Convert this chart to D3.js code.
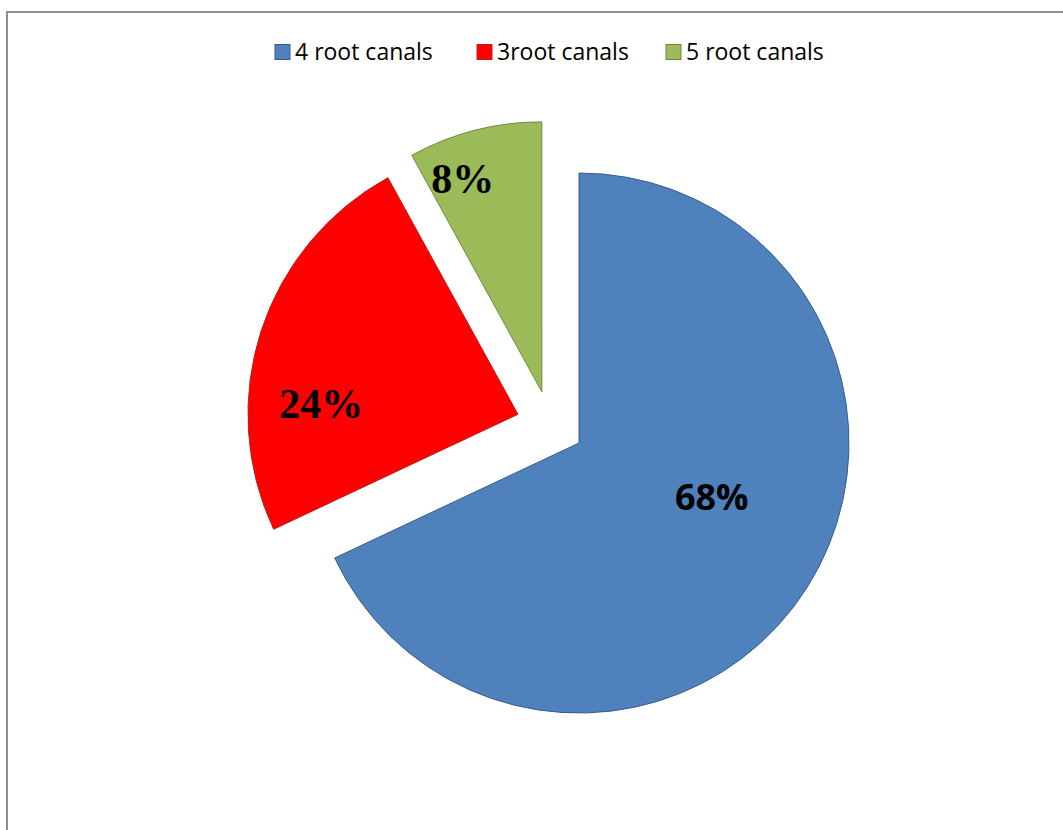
<!DOCTYPE html>
<html><head><meta charset="utf-8">
<script src="https://cdn.jsdelivr.net/npm/d3@7"></script>
<style>body{margin:0;background:#fff}svg{display:block}</style>
</head><body>
<svg id="chart" width="1063" height="830"></svg>
<script>
const categories = ["4 root canals", "3root canals", "5 root canals"];
const values = [68, 24, 8];
const labels = ["68%", "24%", "8%"];
const colors = ["#4f81bd", "#ff0000", "#9bbb59"];
const strokes = ["#385d8a", "#b22222", "#71893f"];
// label placement: [angle offset (deg) from slice mid-angle, fraction of radius]
const labelPlace = [[-10.4, 0.53], [-15, 0.73], [-6, 0.84]];
const labelFonts = [
  {family: "'Open Sans', Lato, sans-serif", size: 36},
  {family: "'Liberation Serif', 'Times New Roman', serif", size: 42},
  {family: "'Liberation Serif', 'Times New Roman', serif", size: 42}
];

const svg = d3.select("#chart");
svg.append("rect").attr("x", 7).attr("y", 12).attr("width", 1100).attr("height", 900)
  .attr("fill", "none").attr("stroke", "#8e8e8e").attr("stroke-width", 2);

const cx = 550.3, cy = 424.8, r = 270, explode = 34;
const pie = d3.pie().sort(null).value(d => d);
const arcs = pie(values);
const arc = d3.arc().innerRadius(0).outerRadius(r);

const g = svg.append("g").attr("transform", `translate(${cx},${cy})`);
arcs.forEach((a, i) => {
  const mid = (a.startAngle + a.endAngle) / 2;
  const ox = Math.sin(mid) * explode, oy = -Math.cos(mid) * explode;
  const sg = g.append("g").attr("transform", `translate(${ox},${oy})`);
  sg.append("path").attr("d", arc(a)).attr("fill", colors[i])
    .attr("stroke", strokes[i]).attr("stroke-width", 1);
  const la = mid + labelPlace[i][0] * Math.PI / 180;
  const lr = r * labelPlace[i][1];
  sg.append("text")
    .attr("x", Math.sin(la) * lr).attr("y", -Math.cos(la) * lr)
    .attr("text-anchor", "middle").attr("dominant-baseline", "central")
    .attr("font-family", labelFonts[i].family).attr("font-size", labelFonts[i].size)
    .attr("font-weight", "bold").attr("fill", "#000").text(labels[i]);
});

// legend
const legendX = [275, 477, 666];
const leg = svg.append("g");
categories.forEach((c, i) => {
  leg.append("rect").attr("x", legendX[i]).attr("y", 44.5).attr("width", 15).attr("height", 15)
    .attr("fill", colors[i]).attr("stroke", strokes[i]).attr("stroke-width", 1);
  leg.append("text").attr("x", legendX[i] + 20).attr("y", 60)
    .attr("font-family", "'Open Sans', Lato, sans-serif").attr("font-size", 23)
    .attr("fill", "#000").text(c);
});
</script>
</body></html>
